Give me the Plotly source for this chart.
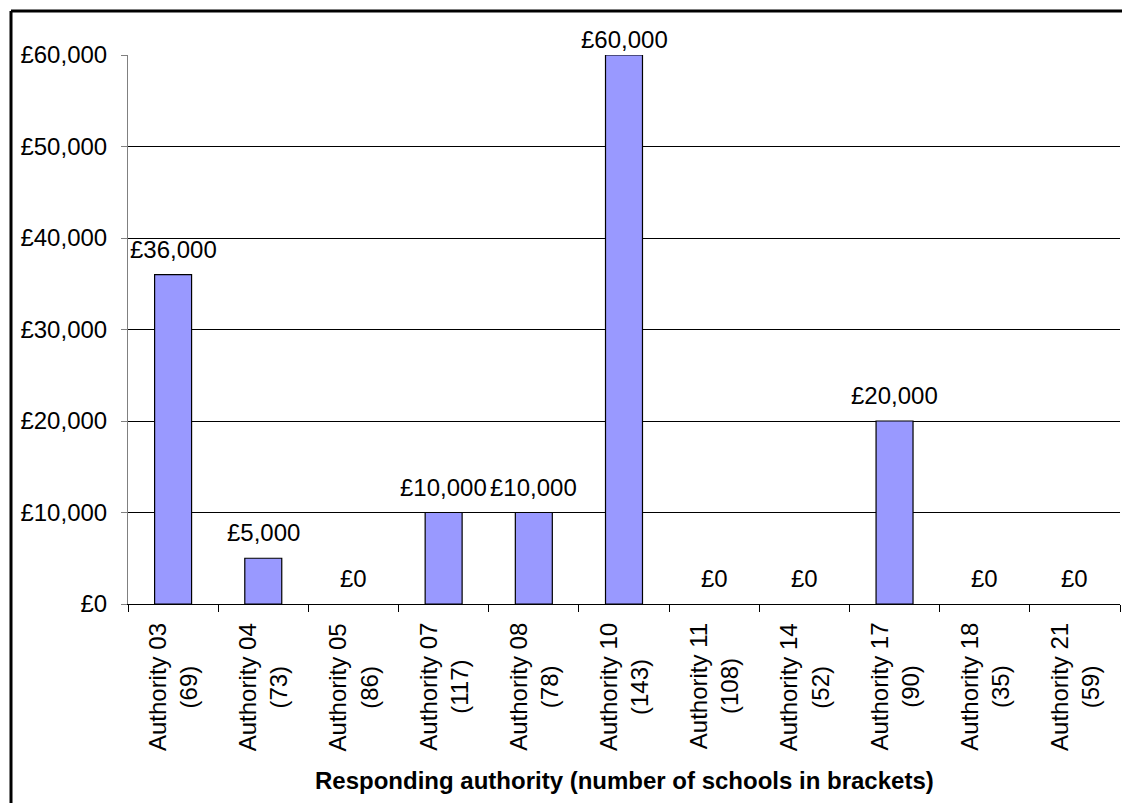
import plotly.graph_objects as go

authorities = ["Authority 03", "Authority 04", "Authority 05", "Authority 07", "Authority 08",
               "Authority 10", "Authority 11", "Authority 14", "Authority 17", "Authority 18",
               "Authority 21"]
schools = [69, 73, 86, 117, 78, 143, 108, 52, 90, 35, 59]
values = [36000, 5000, 0, 10000, 10000, 60000, 0, 0, 20000, 0, 0]
y_ticks = [0, 10000, 20000, 30000, 40000, 50000, 60000]
x_title = "Responding authority (number of schools in brackets)"

FONT = "Liberation Sans, Arial, sans-serif"
YMAX = 60000


def money(v):
    return "£{:,}".format(v)


fig = go.Figure()
fig.add_trace(go.Bar(
    x=authorities, y=values,
    marker=dict(color="#9999FF",
                line=dict(color="#000000", width=[0 if v == 0 else 1.2 for v in values])),
    width=0.41,
    hoverinfo="x+y",
))

annotations = []
# data labels
for a, v in zip(authorities, values):
    annotations.append(dict(
        x=a, y=v, xref="x", yref="y", text=money(v),
        showarrow=False, xanchor="center", yanchor="bottom",
        yshift=0 if v >= YMAX else 10,
        font=dict(family=FONT, size=24, color="#000000"),
    ))
# category labels (two lines, rotated, centred)
for a, s in zip(authorities, schools):
    annotations.append(dict(
        x=a, y=0, xref="x", yref="paper", text="{}<br>({})".format(a, s),
        showarrow=False, textangle=-90, xanchor="center", yanchor="top",
        align="center", yshift=-17,
        font=dict(family=FONT, size=24, color="#000000"),
    ))
annotations.append(dict(
    x=0.5, y=0, xref="paper", yref="paper", text="<b>" + x_title + "</b>",
    showarrow=False, xanchor="center", yanchor="middle", yshift=-176,
    font=dict(family=FONT, size=24, color="#000000"),
))

bx0 = (11 - 128) / 992
bx1 = (1122 - 128) / 992
by1 = (604 - 11) / 549
border = dict(color="#000000", width=3)

fig.update_layout(
    width=1122, height=803,
    margin=dict(l=128, r=2, t=55, b=199, pad=0),
    paper_bgcolor="#FFFFFF", plot_bgcolor="#FFFFFF",
    showlegend=False,
    font=dict(family=FONT, size=24, color="#000000"),
    annotations=annotations,
    xaxis=dict(
        type="category", showticklabels=False,
        tickson="boundaries", ticks="outside", ticklen=7, tickcolor="#000000", tickwidth=1,
        showline=True, linecolor="#000000", linewidth=1,
        showgrid=False, zeroline=False, range=[-0.5, len(authorities) - 0.5],
    ),
    yaxis=dict(
        range=[0, YMAX], tickmode="array", tickvals=y_ticks,
        ticktext=[money(v) for v in y_ticks],
        ticks="outside", ticklen=6, tickcolor="#808080", tickwidth=1,
        ticklabelstandoff=9,
        showline=True, linecolor="#808080", linewidth=1,
        showgrid=True, gridcolor="#000000", gridwidth=1,
        zeroline=False,
        tickfont=dict(family=FONT, size=24, color="#000000"),
    ),
    shapes=[
        dict(type="line", xref="paper", yref="paper", x0=bx0, x1=bx1, y0=by1, y1=by1,
             line=border, layer="above"),
        dict(type="line", xref="paper", yref="paper", x0=bx0, x1=bx0, y0=-0.5, y1=by1,
             line=border, layer="above"),
    ],
)

fig.write_html("out.html")
